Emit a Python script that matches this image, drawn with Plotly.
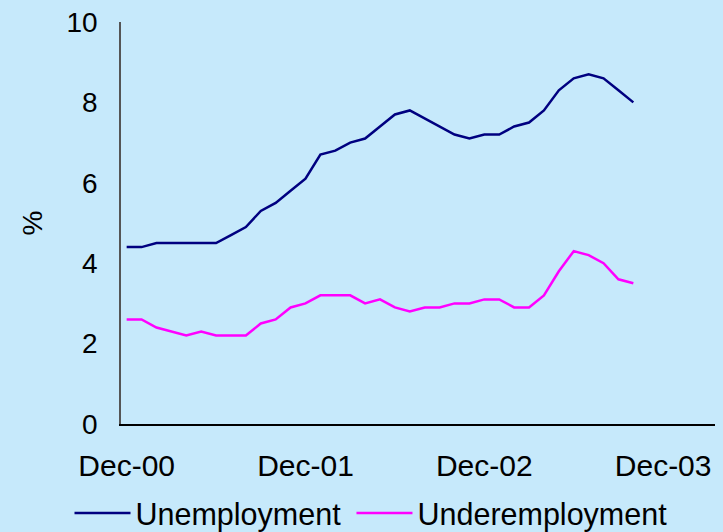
import plotly.graph_objects as go

months = ["Dec-00","Jan-01","Feb-01","Mar-01","Apr-01","May-01","Jun-01","Jul-01","Aug-01","Sep-01","Oct-01","Nov-01",
          "Dec-01","Jan-02","Feb-02","Mar-02","Apr-02","May-02","Jun-02","Jul-02","Aug-02","Sep-02","Oct-02","Nov-02",
          "Dec-02","Jan-03","Feb-03","Mar-03","Apr-03","May-03","Jun-03","Jul-03","Aug-03","Sep-03","Oct-03"]
unemployment = [4.4,4.4,4.5,4.5,4.5,4.5,4.5,4.7,4.9,5.3,5.5,5.8,6.1,6.7,6.8,7.0,7.1,7.4,7.7,7.8,7.6,7.4,7.2,7.1,
                7.2,7.2,7.4,7.5,7.8,8.3,8.6,8.7,8.6,8.3,8.0]
underemployment = [2.6,2.6,2.4,2.3,2.2,2.3,2.2,2.2,2.2,2.5,2.6,2.9,3.0,3.2,3.2,3.2,3.0,3.1,2.9,2.8,2.9,2.9,3.0,3.0,
                   3.1,3.1,2.9,2.9,3.2,3.8,4.3,4.2,4.0,3.6,3.5]
tick_labels = ["Dec-00","Dec-01","Dec-02","Dec-03"]
tick_positions = [0, 12, 24, 36]
y_ticks = [0, 2, 4, 6, 8, 10]

x = list(range(len(months)))
bg = "#C6E9FB"
font = "Liberation Sans, Arial, sans-serif"

fig = go.Figure()
fig.add_trace(go.Scatter(x=x, y=unemployment, mode="lines", name="Unemployment",
                         line=dict(color="#000080", width=2.5), customdata=months, legend="legend",
                         hovertemplate="%{customdata}: %{y}%<extra></extra>"))
fig.add_trace(go.Scatter(x=x, y=underemployment, mode="lines", name="Underemployment",
                         line=dict(color="#FF00FF", width=2.5), customdata=months, legend="legend2",
                         hovertemplate="%{customdata}: %{y}%<extra></extra>"))

legend_common = dict(orientation="h", xanchor="left", y=-0.222, yanchor="middle",
                     bgcolor="rgba(0,0,0,0)", font=dict(size=30.5), itemwidth=56)

fig.update_layout(
    width=723, height=532,
    paper_bgcolor=bg, plot_bgcolor=bg,
    margin=dict(l=121, r=8, t=22, b=108, autoexpand=False),
    font=dict(family=font, size=28, color="#000000"),
    showlegend=True,
    legend=dict(x=-0.0867, **legend_common),
    legend2=dict(x=0.388, **legend_common),
    xaxis=dict(range=[-0.38, 39.48], tickmode="array", tickvals=tick_positions, ticktext=tick_labels,
               showgrid=False, zeroline=False, showline=True, linecolor="#000000", linewidth=1.5,
               ticks="outside", ticklen=14, tickcolor="rgba(0,0,0,0)", tickfont=dict(size=30)),
    yaxis=dict(range=[0, 10], tickmode="array", tickvals=y_ticks, showgrid=False, zeroline=False,
               showline=True, linecolor="#555555", linewidth=1.5, ticks="outside", ticklen=16,
               tickcolor="rgba(0,0,0,0)", tickfont=dict(size=28),
               title=dict(text="%", font=dict(size=28), standoff=16)),
)

fig.write_html("out.html")
